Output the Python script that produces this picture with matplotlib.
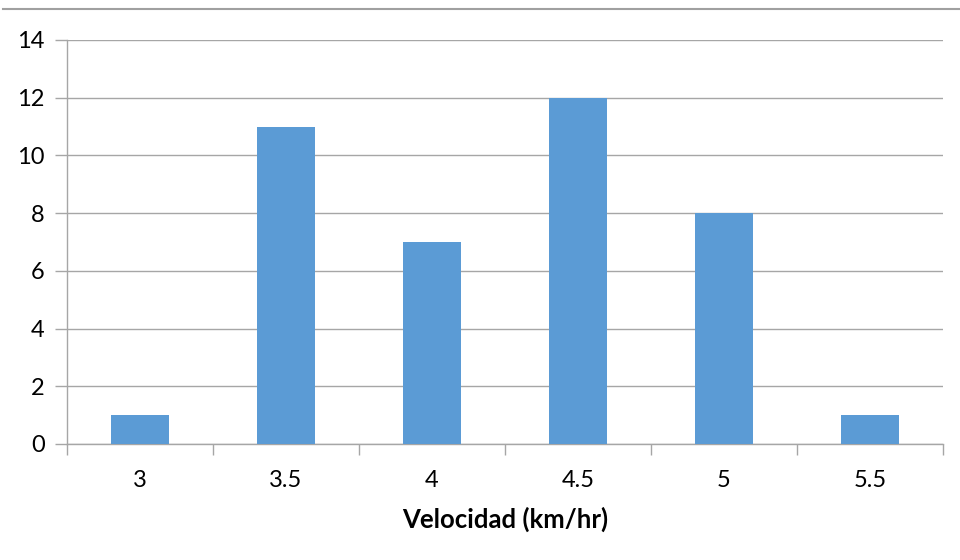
import matplotlib
matplotlib.use("Agg")
import matplotlib.pyplot as plt
from matplotlib.lines import Line2D
import numpy as np

categories = ["3", "3.5", "4", "4.5", "5", "5.5"]
values = [1, 11, 7, 12, 8, 1]
yticks = [0, 2, 4, 6, 8, 10, 12, 14]
xlabel = "Velocidad (km/hr)"

plt.rcParams['font.family'] = ['Lato', 'DejaVu Sans']

fig = plt.figure(figsize=(9.6, 5.6), dpi=100)
ax = fig.add_axes([67/960, 1-444/560, (943-67)/960, (444-40)/560])

x = np.arange(len(categories))
ax.bar(x, values, width=0.4, color="#5b9bd5", zorder=3)
ax.set_xlim(-0.5, len(categories)-0.5)
ax.set_ylim(0, 14)
ax.set_yticks(yticks)
ax.set_yticklabels([str(t) for t in yticks], fontsize=17)
ax.yaxis.grid(True, color="#a6a6a6", linewidth=1, zorder=0)
ax.set_xticks(x)
ax.set_xticklabels(categories, fontsize=17)
ax.tick_params(axis='x', length=0, pad=19)
ax.set_xticks(np.arange(len(categories)+1)-0.5, minor=True)
ax.tick_params(axis='x', which='minor', length=8, color="#a6a6a6", width=1)
ax.tick_params(axis='y', length=9, color="#a6a6a6", width=1, pad=7)
for s in ['top', 'right']:
    ax.spines[s].set_visible(False)
for s in ['left', 'bottom']:
    ax.spines[s].set_color("#a6a6a6")
    ax.spines[s].set_linewidth(1)
ax.set_xlabel(xlabel, fontsize=18.5, fontweight='bold', labelpad=11)

fig.add_artist(Line2D([3/960, 1.0], [1-9/560, 1-9/560], color="#a0a0a0", linewidth=1.5))

fig.savefig("out.png", dpi=100)
